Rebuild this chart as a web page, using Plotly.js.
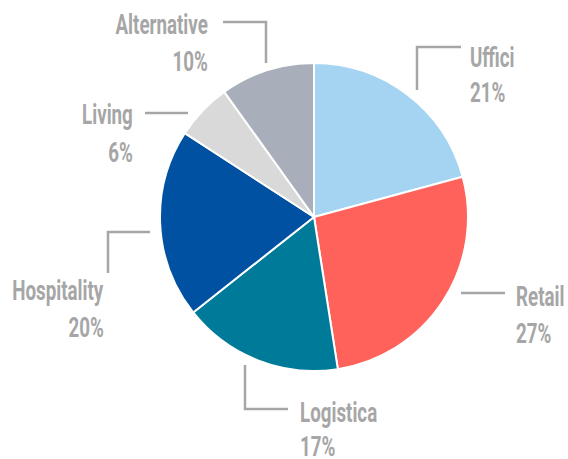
<!DOCTYPE html>
<html>
<head>
<meta charset="utf-8">
<script src="https://cdn.plot.ly/plotly-3.0.1.min.js"></script>
<style>html,body{margin:0;padding:0;background:#fff;}#chart{width:568px;height:459px;}</style>
</head>
<body>
<div id="chart"></div>
<script>
// ---- data ----
var categories = ["Uffici", "Retail", "Logistica", "Hospitality", "Living", "Alternative"];
var shares = [21, 27, 17, 20, 6, 10];
var percentLabels = ["21%", "27%", "17%", "20%", "6%", "10%"];

// ---- styles ----
var sliceColors = ["#a4d4f2", "#ff625a", "#007a99", "#0051a2", "#d9d9d9", "#a8aeba"];
var grey = "#a6a6a6";
var W = 568, H = 459;
var FONT = "Roboto, 'Open Sans', sans-serif";
var FS = 28;
var CONDENSE = 0.67; // horizontal squeeze to mimic a condensed typeface

// label placement (pixels): text anchor, alignment, and leader-line path
var labelLayout = [
  {x: 469, y1: 57, y2: 93, anchor: "left", path: [[417, 90], [417, 47], [461, 47]]},
  {x: 515, y1: 296, y2: 333, anchor: "left", path: [[461, 293], [505, 293]]},
  {x: 299, y1: 412, y2: 446, anchor: "left", path: [[245, 365], [245, 409], [288, 409]]},
  {x: 105, y1: 290, y2: 327, anchor: "right", path: [[108, 273], [108, 232], [150, 232]]},
  {x: 134, y1: 115, y2: 152, anchor: "right", path: [[145, 113], [188, 113]]},
  {x: 209, y1: 25, y2: 61, anchor: "right", path: [[223, 22], [266, 22], [266, 63]]}
];

function px(x) { return x / W; }
function py(y) { return 1 - y / H; }

var annotations = [];
var anchors = [];
var shapes = [];
categories.forEach(function (c, i) {
  var L = labelLayout[i];
  [[c, L.y1], [percentLabels[i], L.y2]].forEach(function (t) {
    annotations.push({
      xref: "paper", yref: "paper", x: px(L.x), y: py(t[1]),
      xanchor: L.anchor, yanchor: "middle", align: L.anchor,
      text: "<b>" + t[0] + "</b>", showarrow: false, borderpad: 0,
      font: {family: FONT, size: FS, color: grey}
    });
    anchors.push(L.anchor);
  });
  var d = "M" + L.path.map(function (p) { return px(p[0]) + "," + py(p[1]); }).join(" L");
  shapes.push({type: "path", xref: "paper", yref: "paper", path: d,
    line: {color: grey, width: 2.5}});
});

var trace = {
  type: "pie",
  labels: categories,
  values: shares,
  sort: false,
  direction: "clockwise",
  rotation: 0,
  textinfo: "none",
  hoverinfo: "label+percent",
  marker: {colors: sliceColors, line: {color: "#ffffff", width: 2}},
  domain: {x: [160 / W, 468 / W], y: [1 - 371 / H, 1 - 63 / H]}
};

Plotly.newPlot("chart", [trace], {
  width: W, height: H,
  margin: {l: 0, r: 0, t: 0, b: 0},
  showlegend: false,
  paper_bgcolor: "#ffffff",
  annotations: annotations,
  shapes: shapes
}, {displayModeBar: false, staticPlot: true}).then(function (gd) {
  var texts = gd.querySelectorAll("g.annotation text.annotation-text");
  texts.forEach(function (el, i) {
    var bb = el.getBBox();
    var ax = anchors[i] === "left" ? bb.x : bb.x + bb.width;
    var prev = el.getAttribute("transform") || "";
    el.setAttribute("transform", prev + " translate(" + ax + ",0) scale(" + CONDENSE + ",1) translate(" + (-ax) + ",0)");
  });
});
</script>
</body>
</html>
